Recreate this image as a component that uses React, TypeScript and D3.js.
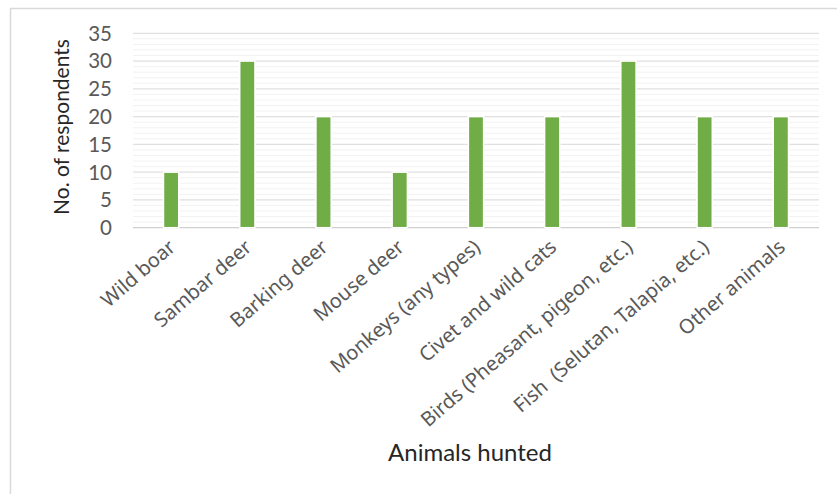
import React from "react";
import * as d3 from "d3";

const categories = [
  "Wild boar",
  "Sambar deer",
  "Barking deer",
  "Mouse deer",
  "Monkeys (any types)",
  "Civet and wild cats",
  "Birds (Pheasant, pigeon, etc.)",
  "Fish  (Selutan, Talapia, etc.)",
  "Other animals",
];
const respondents = [10, 30, 20, 10, 20, 20, 30, 20, 20];
const yTicks = [0, 5, 10, 15, 20, 25, 30, 35];
const yTitle = "No. of respondents";
const xTitle = "Animals hunted";

const W = 837;
const H = 494;
const plot = { left: 133, right: 819, top: 33.3, bottom: 227.7 };
const labelFont = "'Noto Sans', sans-serif";
const titleFont = "Lato, sans-serif";

export default function App() {
  const x = d3
    .scaleBand<string>()
    .domain(categories)
    .range([plot.left, plot.right])
    .paddingInner(0.8)
    .paddingOuter(0.4);
  const y = d3.scaleLinear().domain([0, 35]).range([plot.bottom, plot.top]);
  const minor = d3.range(0, 36, 1).filter((v) => v % 5 !== 0);

  return (
    <svg
      width={W}
      height={H}
      style={{ position: "absolute", left: 0, top: 0, background: "#fff" }}
    >
      <rect x={10.5} y={8.5} width={840} height={500} fill="#fff" stroke="#d9d9d9" strokeWidth={1.5} />
      {minor.map((v) => (
        <line key={"m" + v} x1={plot.left} x2={plot.right} y1={y(v)} y2={y(v)} stroke="#f2f2f2" strokeWidth={1} />
      ))}
      {yTicks.map((v) => (
        <line key={"g" + v} x1={plot.left} x2={plot.right} y1={y(v)} y2={y(v)} stroke={v === 0 ? "#d0d0d0" : "#e0e0e0"} strokeWidth={1.3} />
      ))}
      {categories.map((c, i) => (
        <rect
          key={c}
          x={x(c)!}
          y={y(respondents[i])}
          width={x.bandwidth()}
          height={y(0) - y(respondents[i])}
          fill="#70ad47"
          stroke="#fff"
          strokeWidth={1.5}
        />
      ))}
      {yTicks.map((v) => (
        <text key={"t" + v} x={112} y={y(v)} dy="0.36em" textAnchor="end" fontFamily={titleFont} fontSize={20.5} fill="#595959">
          {v}
        </text>
      ))}
      <text
        transform={`translate(69,127) rotate(-90)`}
        textAnchor="middle"
        fontFamily={titleFont}
        fontSize={21}
        fill="#262626"
      >
        {yTitle}
      </text>
      {categories.map((c) => {
        const cx = x(c)! + x.bandwidth() / 2 + 1;
        return (
          <text
            key={"l" + c}
            transform={`translate(${cx},${plot.bottom + 16}) rotate(-41)`}
            textAnchor="end"
            dy="0.35em"
            fontFamily={labelFont}
            fontSize={20}
            fill="#595959"
            style={{ whiteSpace: "pre" }}
          >
            {c}
          </text>
        );
      })}
      <text x={470} y={461} textAnchor="middle" fontFamily={titleFont} fontSize={24} fill="#262626">
        {xTitle}
      </text>
    </svg>
  );
}
